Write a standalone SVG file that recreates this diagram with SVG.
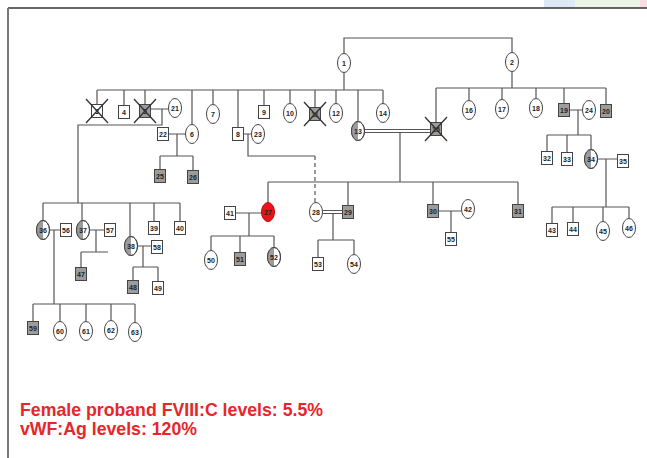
<svg xmlns="http://www.w3.org/2000/svg" width="647" height="458" viewBox="0 0 647 458">
<style>
.ln{stroke:#555;stroke-width:1.2;fill:none}
.ds{stroke:#555;stroke-width:1.2;fill:none;stroke-dasharray:4 3}
.sq{fill:#fff;stroke:#444;stroke-width:1}
.sh{fill:#9c9c9c;stroke:#444;stroke-width:1}
.el{fill:#fff;stroke:#444;stroke-width:1}
.hf{fill:#9c9c9c;stroke:none}
.pr{fill:#e8141b;stroke:#c00;stroke-width:1}
.x{stroke:#333;stroke-width:1.3}
.t{font-family:"Liberation Sans",Arial,sans-serif;font-size:7px;font-weight:bold;text-anchor:middle;fill:#222}
.cap{font-family:"Liberation Sans",Arial,sans-serif;font-size:19px;font-weight:bold;fill:#e8262a}
</style>
<rect x="0" y="0" width="647" height="458" fill="#fff"/>
<rect x="544" y="0" width="31" height="8" fill="#dde9f5"/>
<rect x="575" y="0" width="65" height="8" fill="#eaf5e6"/>
<rect x="640" y="0" width="7" height="8" fill="#f9dfe5"/>
<line x1="8" y1="8" x2="647" y2="8" stroke="#333" stroke-width="1.5"/>
<line x1="8" y1="8" x2="8" y2="458" stroke="#777" stroke-width="2"/>

<g id="connectors">
<path class="ln" d="M344,53.5V38H512V52.5M344,72.5V90M97,90H383M97,90V104M124,90V105.5M145,90V104M192,90V124.5M213,90V104.5M238,90V127.5M264,90V105.5M290,90V103.5M315,90V107M336,90V103.5M358,90V121.5M383,90V103.5"/>
<path class="ln" d="M512,71.5V88M436,88H606M436,88V122.5M469,88V100.5M502,88V99.5M536,88V98.5M564,88V103.5M606,88V104.5"/>
<path class="ln" d="M150.5,109H168.5M162,109V125H78V203M43,203H180M43,203V220.5M82,203V220.5M130,203V236.5M154,203V221.5M180,203V221.5"/>
<path class="ln" d="M168.5,134H185.5M177,134V156M160,156H193M160,156V169.5M193,156V170.5"/>
<path class="ln" d="M243.5,134H251.5M248,134V156H315"/>
<path class="ds" d="M315,156V202.5"/>
<path class="ln" d="M364.5,129.5H430.5M364.5,132.5H430.5M400,132.5V182M268,182H518M268,182V202.5M348,182V205.5M433,182V204.5M518,182V204.5"/>
<path class="ln" d="M235.5,213H261.5M249,213V236M211,236H274M211,236V250.5M240,236V252.5M274,236V247.5"/>
<path class="ln" d="M322.5,210.5H342.5M322.5,213.5H342.5M333,213.5V240M318,240H354M318,240V257.5M354,240V254.5"/>
<path class="ln" d="M438.5,211H461.5M451,211V232.5"/>
<path class="ln" d="M569.5,110H582.5M578,110V135M547,135H591M547,135V151.5M567,135V152.5M591,135V149.5"/>
<path class="ln" d="M597.5,159H617.5M606,159V207M552,207H629M552,207V223.5M573,207V222.5M603,207V221.5M629,207V218.5"/>
<path class="ln" d="M49.5,230H60.5M54,230V304M33,304H135M33,304V321.5M60,304V321.5M86,304V321.5M111,304V320.5M135,304V322.5"/>
<path class="ln" d="M89.5,230H104.5M96,230V252M81,252H108M81,252V267.5"/>
<path class="ln" d="M137.5,246H151.5M143,246V267M133,267H158M133,267V280.5M158,267V281.5"/>
</g>

<g id="n1"><ellipse class="el" cx="344" cy="63" rx="6.5" ry="9.5"/><text class="t" x="344" y="65.5">1</text></g>
<g id="n2"><ellipse class="el" cx="512" cy="62" rx="6.5" ry="9.5"/><text class="t" x="512" y="64.5">2</text></g>

<g id="n3"><rect class="sq" x="91.5" y="104.5" width="11" height="13"/><text class="t" x="97" y="113.5">3</text><path class="x" d="M86,99L108,123M108,99L86,123"/></g>
<g id="n4"><rect class="sq" x="118.5" y="105.5" width="11" height="13"/><text class="t" x="124" y="114.5">4</text></g>
<g id="n5"><rect class="sh" x="139.5" y="104.5" width="11" height="13"/><text class="t" x="145" y="113.5">5</text><path class="x" d="M134,99L156,123M156,99L134,123"/></g>
<g id="n21"><ellipse class="el" cx="175" cy="108" rx="6.5" ry="9.5"/><text class="t" x="175" y="110.5">21</text></g>
<g id="n6"><ellipse class="el" cx="192" cy="134" rx="6.5" ry="9.5"/><text class="t" x="192" y="136.5">6</text></g>
<g id="n22"><rect class="sq" x="157.5" y="127.5" width="11" height="13"/><text class="t" x="163" y="136.5">22</text></g>
<g id="n25"><rect class="sh" x="154.5" y="169.5" width="11" height="13"/><text class="t" x="160" y="178.5">25</text></g>
<g id="n26"><rect class="sh" x="187.5" y="170.5" width="11" height="13"/><text class="t" x="193" y="179.5">26</text></g>
<g id="n7"><ellipse class="el" cx="213" cy="114" rx="6.5" ry="9.5"/><text class="t" x="213" y="116.5">7</text></g>
<g id="n8"><rect class="sq" x="232.5" y="127.5" width="11" height="13"/><text class="t" x="238" y="136.5">8</text></g>
<g id="n23"><ellipse class="el" cx="258" cy="134" rx="6.5" ry="9.5"/><text class="t" x="258" y="136.5">23</text></g>
<g id="n9"><rect class="sq" x="258.5" y="105.5" width="11" height="13"/><text class="t" x="264" y="114.5">9</text></g>
<g id="n10"><ellipse class="el" cx="290" cy="113" rx="6.5" ry="9.5"/><text class="t" x="290" y="115.5">10</text></g>
<g id="n11"><rect class="sh" x="309.5" y="107.5" width="11" height="13"/><text class="t" x="315" y="116.5">11</text><path class="x" d="M304,102L326,126M326,102L304,126"/></g>
<g id="n12"><ellipse class="el" cx="336" cy="113" rx="6.5" ry="9.5"/><text class="t" x="336" y="115.5">12</text></g>
<g id="n13"><ellipse class="el" cx="358" cy="131" rx="6.5" ry="9.5"/><path class="hf" d="M358,121.5A6.5,9.5 0 0 0 358,140.5Z"/><ellipse cx="358" cy="131" rx="6.5" ry="9.5" fill="none" stroke="#444"/><text class="t" x="358" y="133.5">13</text></g>
<g id="n14"><ellipse class="el" cx="383" cy="113" rx="6.5" ry="9.5"/><text class="t" x="383" y="115.5">14</text></g>
<g id="n15"><rect class="sh" x="430.5" y="122.5" width="11" height="13"/><text class="t" x="436" y="131.5">15</text><path class="x" d="M425,117L447,141M447,117L425,141"/></g>
<g id="n16"><ellipse class="el" cx="469" cy="110" rx="6.5" ry="9.5"/><text class="t" x="469" y="112.5">16</text></g>
<g id="n17"><ellipse class="el" cx="502" cy="109" rx="6.5" ry="9.5"/><text class="t" x="502" y="111.5">17</text></g>
<g id="n18"><ellipse class="el" cx="536" cy="108" rx="6.5" ry="9.5"/><text class="t" x="536" y="110.5">18</text></g>
<g id="n19"><rect class="sh" x="558.5" y="103.5" width="11" height="13"/><text class="t" x="564" y="112.5">19</text></g>
<g id="n24"><ellipse class="el" cx="589" cy="110" rx="6.5" ry="9.5"/><text class="t" x="589" y="112.5">24</text></g>
<g id="n20"><rect class="sh" x="600.5" y="104.5" width="11" height="13"/><text class="t" x="606" y="113.5">20</text></g>
<g id="n32"><rect class="sq" x="541.5" y="151.5" width="11" height="13"/><text class="t" x="547" y="160.5">32</text></g>
<g id="n33"><rect class="sq" x="561.5" y="152.5" width="11" height="13"/><text class="t" x="567" y="161.5">33</text></g>
<g id="n34"><ellipse class="el" cx="591" cy="159" rx="6.5" ry="9.5"/><path class="hf" d="M591,149.5A6.5,9.5 0 0 0 591,168.5Z"/><ellipse cx="591" cy="159" rx="6.5" ry="9.5" fill="none" stroke="#444"/><text class="t" x="591" y="161.5">34</text></g>
<g id="n35"><rect class="sq" x="617.5" y="154.5" width="11" height="13"/><text class="t" x="623" y="163.5">35</text></g>
<g id="n43"><rect class="sq" x="546.5" y="223.5" width="11" height="13"/><text class="t" x="552" y="232.5">43</text></g>
<g id="n44"><rect class="sq" x="567.5" y="222.5" width="11" height="13"/><text class="t" x="573" y="231.5">44</text></g>
<g id="n45"><ellipse class="el" cx="603" cy="231" rx="6.5" ry="9.5"/><text class="t" x="603" y="233.5">45</text></g>
<g id="n46"><ellipse class="el" cx="629" cy="228" rx="6.5" ry="9.5"/><text class="t" x="629" y="230.5">46</text></g>

<g id="n27"><ellipse class="pr" cx="268" cy="212" rx="6.5" ry="9.5"/><text class="t" x="268" y="214.5">27</text></g>
<g id="n41"><rect class="sq" x="224.5" y="206.5" width="11" height="13"/><text class="t" x="230" y="215.5">41</text></g>
<g id="n50"><ellipse class="el" cx="211" cy="260" rx="6.5" ry="9.5"/><text class="t" x="211" y="262.5">50</text></g>
<g id="n51"><rect class="sh" x="234.5" y="252.5" width="11" height="13"/><text class="t" x="240" y="261.5">51</text></g>
<g id="n52"><ellipse class="el" cx="274" cy="257" rx="6.5" ry="9.5"/><path class="hf" d="M274,247.5A6.5,9.5 0 0 0 274,266.5Z"/><ellipse cx="274" cy="257" rx="6.5" ry="9.5" fill="none" stroke="#444"/><text class="t" x="274" y="259.5">52</text></g>
<g id="n28"><ellipse class="el" cx="316" cy="212" rx="6.5" ry="9.5"/><text class="t" x="316" y="214.5">28</text></g>
<g id="n29"><rect class="sh" x="342.5" y="205.5" width="11" height="13"/><text class="t" x="348" y="214.5">29</text></g>
<g id="n53"><rect class="sq" x="312.5" y="257.5" width="11" height="13"/><text class="t" x="318" y="266.5">53</text></g>
<g id="n54"><ellipse class="el" cx="354" cy="264" rx="6.5" ry="9.5"/><text class="t" x="354" y="266.5">54</text></g>
<g id="n30"><rect class="sh" x="427.5" y="204.5" width="11" height="13"/><text class="t" x="433" y="213.5">30</text></g>
<g id="n42"><ellipse class="el" cx="468" cy="209" rx="6.5" ry="9.5"/><text class="t" x="468" y="211.5">42</text></g>
<g id="n55"><rect class="sq" x="445.5" y="232.5" width="11" height="13"/><text class="t" x="451" y="241.5">55</text></g>
<g id="n31"><rect class="sh" x="512.5" y="204.5" width="11" height="13"/><text class="t" x="518" y="213.5">31</text></g>

<g id="n36"><ellipse class="el" cx="43" cy="230" rx="6.5" ry="9.5"/><path class="hf" d="M43,220.5A6.5,9.5 0 0 0 43,239.5Z"/><ellipse cx="43" cy="230" rx="6.5" ry="9.5" fill="none" stroke="#444"/><text class="t" x="43" y="232.5">36</text></g>
<g id="n56"><rect class="sq" x="60.5" y="223.5" width="11" height="13"/><text class="t" x="66" y="232.5">56</text></g>
<g id="n37"><ellipse class="el" cx="83" cy="230" rx="6.5" ry="9.5"/><path class="hf" d="M83,220.5A6.5,9.5 0 0 0 83,239.5Z"/><ellipse cx="83" cy="230" rx="6.5" ry="9.5" fill="none" stroke="#444"/><text class="t" x="83" y="232.5">37</text></g>
<g id="n57"><rect class="sq" x="104.5" y="223.5" width="11" height="13"/><text class="t" x="110" y="232.5">57</text></g>
<g id="n47"><rect class="sh" x="75.5" y="267.5" width="11" height="13"/><text class="t" x="81" y="276.5">47</text></g>
<g id="n38"><ellipse class="el" cx="131" cy="246" rx="6.5" ry="9.5"/><path class="hf" d="M131,236.5A6.5,9.5 0 0 0 131,255.5Z"/><ellipse cx="131" cy="246" rx="6.5" ry="9.5" fill="none" stroke="#444"/><text class="t" x="131" y="248.5">38</text></g>
<g id="n58"><rect class="sq" x="151.5" y="240.5" width="11" height="13"/><text class="t" x="157" y="249.5">58</text></g>
<g id="n48"><rect class="sh" x="127.5" y="280.5" width="11" height="13"/><text class="t" x="133" y="289.5">48</text></g>
<g id="n49"><rect class="sq" x="152.5" y="281.5" width="11" height="13"/><text class="t" x="158" y="290.5">49</text></g>
<g id="n39"><rect class="sq" x="148.5" y="221.5" width="11" height="13"/><text class="t" x="154" y="230.5">39</text></g>
<g id="n40"><rect class="sq" x="174.5" y="221.5" width="11" height="13"/><text class="t" x="180" y="230.5">40</text></g>
<g id="n59"><rect class="sh" x="27.5" y="321.5" width="11" height="13"/><text class="t" x="33" y="330.5">59</text></g>
<g id="n60"><ellipse class="el" cx="60" cy="331" rx="6.5" ry="9.5"/><text class="t" x="60" y="333.5">60</text></g>
<g id="n61"><ellipse class="el" cx="86" cy="331" rx="6.5" ry="9.5"/><text class="t" x="86" y="333.5">61</text></g>
<g id="n62"><ellipse class="el" cx="111" cy="330" rx="6.5" ry="9.5"/><text class="t" x="111" y="332.5">62</text></g>
<g id="n63"><ellipse class="el" cx="135" cy="332" rx="6.5" ry="9.5"/><text class="t" x="135" y="334.5">63</text></g>

<text class="cap" x="20" y="416" textLength="303" lengthAdjust="spacingAndGlyphs">Female proband FVIII:C levels: 5.5%</text>
<text class="cap" x="20" y="435" textLength="177" lengthAdjust="spacingAndGlyphs">vWF:Ag levels: 120%</text>
</svg>
